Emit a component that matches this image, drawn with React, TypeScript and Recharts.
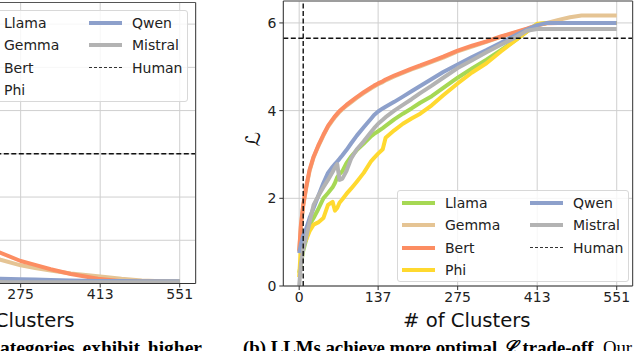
import React from 'react';
import { LineChart, Line, XAxis, YAxis, CartesianGrid, ReferenceLine } from 'recharts';

// ---- data ----
const X_TICKS = [0, 137, 275, 413, 551];
const X_MIN = -27.55;
const X_MAX = 578.55;

// panel (b): L vs # of clusters
const CLUSTERS = [0, 3, 7, 12, 18, 25, 33, 42, 50, 58, 62, 66, 70, 75, 82, 90, 100, 112, 125, 130, 137, 145, 150, 165, 180, 195, 210, 230, 250, 275, 300, 325, 350, 375, 395, 413, 430, 450, 470, 490, 510, 530, 551];
const LLAMA = [0.3, 0.5, 0.8, 1.05, 1.4, 1.55, 1.75, 2.0, 2.12, 2.25, 2.35, 2.48, 2.55, 2.62, 2.8, 2.95, 3.1, 3.25, 3.42, 3.47, 3.53, 3.6, 3.65, 3.8, 3.93, 4.05, 4.18, 4.33, 4.52, 4.75, 4.96, 5.16, 5.38, 5.6, 5.8, 5.97, 6.0, 6.0, 6.0, 6.0, 6.0, 6.0, 6.0];
const GEMMA = [0.78, 1.36, 1.82, 2.22, 2.62, 2.93, 3.18, 3.43, 3.63, 3.78, 3.85, 3.91, 3.97, 4.03, 4.11, 4.19, 4.29, 4.4, 4.51, 4.55, 4.6, 4.65, 4.69, 4.78, 4.86, 4.94, 5.01, 5.11, 5.21, 5.35, 5.46, 5.57, 5.68, 5.78, 5.86, 5.94, 6.0, 6.07, 6.13, 6.17, 6.17, 6.17, 6.17];
const BERT = [0.8, 1.4, 1.85, 2.25, 2.65, 2.95, 3.2, 3.45, 3.65, 3.8, 3.87, 3.93, 3.99, 4.05, 4.13, 4.21, 4.31, 4.42, 4.53, 4.57, 4.62, 4.67, 4.71, 4.8, 4.88, 4.96, 5.03, 5.13, 5.23, 5.37, 5.48, 5.58, 5.69, 5.79, 5.87, 5.95, 5.99, 6.0, 6.0, 6.0, 6.0, 6.0, 6.0];
const PHI = [0.2, 0.9, 1.0, 1.05, 1.25, 1.4, 1.45, 1.55, 1.85, 1.92, 1.72, 1.78, 1.9, 1.98, 2.1, 2.22, 2.38, 2.58, 2.85, 2.92, 3.02, 3.12, 3.38, 3.55, 3.7, 3.82, 3.93, 4.12, 4.35, 4.62, 4.87, 5.08, 5.35, 5.6, 5.8, 5.98, 6.0, 6.0, 6.0, 6.0, 6.0, 6.0, 6.0];
const QWEN = [0.75, 0.95, 1.15, 1.3, 1.55, 1.78, 2.05, 2.35, 2.58, 2.72, 2.78, 2.84, 2.9, 2.98, 3.1, 3.25, 3.43, 3.62, 3.82, 3.9, 3.98, 4.05, 4.09, 4.2, 4.32, 4.44, 4.56, 4.72, 4.88, 5.05, 5.22, 5.38, 5.55, 5.72, 5.85, 5.95, 6.0, 6.0, 6.0, 6.0, 6.0, 6.0, 6.0];
const MISTRAL = [0.0, 0.5, 0.85, 1.1, 1.45, 1.85, 2.05, 2.25, 2.42, 2.6, 2.7, 2.78, 2.42, 2.45, 2.62, 2.9, 3.12, 3.3, 3.52, 3.6, 3.7, 3.79, 3.85, 4.0, 4.13, 4.26, 4.4, 4.57, 4.75, 4.97, 5.15, 5.33, 5.5, 5.67, 5.82, 5.86, 5.86, 5.86, 5.86, 5.86, 5.86, 5.86, 5.86];
const HUMAN_CLUSTERS = 7;
const HUMAN_L = 5.65;
const L_TICKS = [0, 2, 4, 6];

// panel (a), only its right part is in view
const A_CLUSTERS = [0, 25, 50, 100, 150, 200, 240, 275, 300, 327, 362, 409, 450, 485, 520, 551];
const A_LLAMA = [0.6, 0.45, 0.3, 0.15, 0.08, 0.05, 0.04, 0.04, 0.04, 0.04, 0.04, 0.04, 0.04, 0.04, 0.04, 0.04];
const A_GEMMA = [2.5, 2.1, 1.8, 1.35, 1.0, 0.72, 0.55, 0.42, 0.36, 0.3, 0.23, 0.17, 0.11, 0.07, 0.05, 0.04];
const A_BERT = [2.6, 2.2, 1.9, 1.45, 1.15, 0.9, 0.71, 0.52, 0.43, 0.33, 0.22, 0.11, 0.05, 0.04, 0.04, 0.04];
const A_PHI = [0.7, 0.5, 0.35, 0.18, 0.09, 0.05, 0.04, 0.04, 0.04, 0.04, 0.04, 0.04, 0.04, 0.04, 0.04, 0.04];
const A_QWEN = [0.5, 0.4, 0.3, 0.2, 0.15, 0.12, 0.11, 0.1, 0.09, 0.08, 0.07, 0.06, 0.06, 0.05, 0.05, 0.05];
const A_MISTRAL = [0.3, 0.2, 0.15, 0.08, 0.05, 0.04, 0.03, 0.03, 0.03, 0.03, 0.03, 0.03, 0.03, 0.03, 0.03, 0.03];
const A_HUMAN = 3.0;
const A_TICKS = [0, 1, 2, 3, 4, 5, 6];

const MODELS = ['Llama', 'Gemma', 'Bert', 'Phi', 'Qwen', 'Mistral'];
const COLORS: Record<string, string> = {
  Llama: '#a6d854',
  Gemma: '#e5c494',
  Bert: '#fc8d62',
  Phi: '#ffd92f',
  Qwen: '#8da0cb',
  Mistral: '#b3b3b3',
};

const toPoints = (xs: number[], ys: number[]) => xs.map((x, i) => ({ x, y: ys[i] }));

const B_SERIES: Record<string, number[]> = { Llama: LLAMA, Gemma: GEMMA, Bert: BERT, Phi: PHI, Qwen: QWEN, Mistral: MISTRAL };
const A_SERIES: Record<string, number[]> = { Llama: A_LLAMA, Gemma: A_GEMMA, Bert: A_BERT, Phi: A_PHI, Qwen: A_QWEN, Mistral: A_MISTRAL };

const FONT = '"DejaVu Sans", sans-serif';
const SERIF = '"Liberation Serif", "Times New Roman", serif';
const tickStyle = { fill: '#222', fontSize: 14, fontFamily: FONT };
const DASH = '5 2.5';
const AXIS_W = 40;
const AXIS_H = 30;

interface PanelProps {
  xs: number[];
  series: Record<string, number[]>;
  yMax: number;
  yTicks: number[];
  humanY: number;
  top: number;
  bottom: number;
}

const Panel: React.FC<PanelProps> = ({ xs, series, yMax, yTicks, humanY, top, bottom }) => (
  <LineChart width={640} height={351} margin={{ top, right: 7.4, bottom: bottom - AXIS_H, left: 283.3 - AXIS_W }}>
    <CartesianGrid stroke="#cfcfcf" strokeWidth={1} />
    <XAxis
      type="number"
      dataKey="x"
      domain={[X_MIN, X_MAX]}
      ticks={X_TICKS}
      interval={0}
      allowDataOverflow
      height={AXIS_H}
      tick={tickStyle}
      tickSize={4}
      tickMargin={2}
      stroke="#333"
    />
    <YAxis
      type="number"
      dataKey="y"
      domain={[0, yMax]}
      ticks={yTicks}
      interval={0}
      allowDataOverflow
      width={AXIS_W}
      tick={tickStyle}
      tickSize={4}
      tickMargin={3}
      stroke="#333"
    />
    {MODELS.map((m) => (
      <Line
        key={m}
        data={toPoints(xs, series[m])}
        dataKey="y"
        type="linear"
        stroke={COLORS[m]}
        strokeWidth={4}
        strokeLinejoin="round"
        dot={false}
        activeDot={false}
        isAnimationActive={false}
      />
    ))}
    <ReferenceLine y={humanY} stroke="#111" strokeWidth={1.4} strokeDasharray={DASH} />
    <ReferenceLine x={HUMAN_CLUSTERS} stroke="#111" strokeWidth={1.4} strokeDasharray={DASH} />
    <ReferenceLine y={yMax} stroke="#555" strokeWidth={1.2} />
    <ReferenceLine x={X_MAX} stroke="#555" strokeWidth={1.2} />
  </LineChart>
);

const LegendBox: React.FC<{ left: number; top: number }> = ({ left, top }) => {
  const col1 = MODELS.slice(0, 4);
  const col2 = MODELS.slice(4);
  const row = (label: string, i: number, col: number, dashed = false) => (
    <div key={label} style={{ position: 'absolute', left: col === 0 ? 4 : 132, top: 12 + i * 22.3 - 9, height: 18, display: 'flex', alignItems: 'center' }}>
      <div
        style={
          dashed
            ? { width: 33, height: 0, borderTop: '1.5px dashed #333' }
            : { width: 33, height: 4, background: COLORS[label] }
        }
      />
      <span style={{ marginLeft: 10, fontSize: 14, color: '#222', fontFamily: FONT, lineHeight: '18px' }}>{label}</span>
    </div>
  );
  return (
    <div
      style={{
        position: 'absolute',
        left,
        top,
        width: 232,
        height: 92,
        background: 'rgba(255,255,255,0.82)',
        border: '1px solid #d8d8d8',
        borderRadius: 3,
        boxSizing: 'border-box',
      }}
    >
      {col1.map((m, i) => row(m, i, 0))}
      {col2.map((m, i) => row(m, i, 1))}
      {row('Human', 2, 1, true)}
    </div>
  );
};

export default function App() {
  return (
    <div style={{ position: 'absolute', left: 0, top: 0, width: 640, height: 351, overflow: 'hidden', background: '#fff', fontFamily: FONT }}>
      {/* panel (a), shifted so only its right part shows */}
      <div style={{ position: 'absolute', left: -437.4, top: 0 }}>
        <Panel xs={A_CLUSTERS} series={A_SERIES} yMax={6.5} yTicks={A_TICKS} humanY={A_HUMAN} top={2.5} bottom={67.5} />
      </div>
      <LegendBox left={-44} top={10} />
      <div style={{ position: 'absolute', left: -53, top: 309, fontSize: 19.6, color: '#111', whiteSpace: 'nowrap' }}># of Clusters</div>

      {/* panel (b) */}
      <div style={{ position: 'absolute', left: 0, top: 0 }}>
        <Panel xs={CLUSTERS} series={B_SERIES} yMax={6.5} yTicks={L_TICKS} humanY={HUMAN_L} top={1} bottom={65} />
      </div>
      <LegendBox left={397} top={190} />
      <div style={{ position: 'absolute', left: 403, top: 309, fontSize: 19.6, color: '#111', whiteSpace: 'nowrap' }}># of Clusters</div>
      <div
        style={{
          position: 'absolute',
          left: 253,
          top: 139,
          transform: 'translate(-50%, -50%) rotate(-90deg)',
          fontSize: 20,
          color: '#111',
          fontFamily: FONT,
          lineHeight: '20px',
        }}
      >
        ℒ
      </div>

      {/* captions */}
      <div style={{ position: 'absolute', right: 640 - 202, top: 337, fontSize: 19.5, fontWeight: 'bold', fontFamily: SERIF, whiteSpace: 'nowrap', color: '#000', wordSpacing: 3, lineHeight: '22px' }}>
        categories exhibit higher
      </div>
      <div style={{ position: 'absolute', left: 243, top: 337, fontSize: 18.8, fontFamily: SERIF, whiteSpace: 'nowrap', color: '#000', lineHeight: '22px' }}>
        <b>(b) LLMs achieve more optimal <i>ℒ</i> trade-off.</b> Our
      </div>
    </div>
  );
}
